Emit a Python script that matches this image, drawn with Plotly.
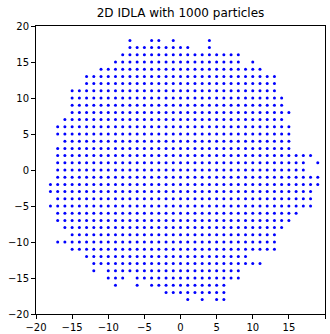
import plotly.graph_objects as go

# Occupied lattice sites of the IDLA cluster, stored row by row.
# Each row lists runs of consecutive occupied x positions as (start, end).
row_y = list(range(18, -19, -1))
row_runs = [
    [(-7, -7), (-4, -3), (-1, -1), (4, 4)],          # y = 18
    [(-7, 1), (4, 4)],                               # y = 17
    [(-8, 8)],                                       # y = 16
    [(-9, 8), (10, 10)],                             # y = 15
    [(-11, 11)],                                     # y = 14
    [(-13, 13)],                                     # y = 13
    [(-13, 13)],                                     # y = 12
    [(-15, 13)],                                     # y = 11
    [(-15, 14)],                                     # y = 10
    [(-15, 14)],                                     # y = 9
    [(-15, 15)],                                     # y = 8
    [(-16, 14)],                                     # y = 7
    [(-17, 15)],                                     # y = 6
    [(-17, 15)],                                     # y = 5
    [(-16, 15)],                                     # y = 4
    [(-17, 15)],                                     # y = 3
    [(-17, 18)],                                     # y = 2
    [(-17, 17), (19, 19)],                           # y = 1
    [(-17, 17)],                                     # y = 0
    [(-17, 19)],                                     # y = -1
    [(-18, 19)],                                     # y = -2
    [(-18, 18)],                                     # y = -3
    [(-17, 18)],                                     # y = -4
    [(-18, 18)],                                     # y = -5
    [(-17, 16)],                                     # y = -6
    [(-17, 15)],                                     # y = -7
    [(-16, 14)],                                     # y = -8
    [(-15, 13)],                                     # y = -9
    [(-17, 13)],                                     # y = -10
    [(-15, 13)],                                     # y = -11
    [(-13, 9)],                                      # y = -12
    [(-12, 11)],                                     # y = -13
    [(-12, -12), (-10, 8)],                          # y = -14
    [(-10, -8), (-6, 8)],                            # y = -15
    [(-9, -9), (-6, -6), (-4, 6)],                   # y = -16
    [(-2, 6)],                                       # y = -17
    [(1, 1), (3, 3), (5, 6)],                        # y = -18
]

tick_values = [-20, -15, -10, -5, 0, 5, 10, 15, 20]
n_particles = 1000

xs, ys = [], []
for y, runs in zip(row_y, row_runs):
    for start, end in runs:
        for x in range(start, end + 1):
            xs.append(x)
            ys.append(y)

fig = go.Figure(
    go.Scatter(
        x=xs, y=ys, mode="markers",
        marker=dict(color="blue", size=3, symbol="circle", line=dict(width=0)),
        hoverinfo="x+y",
    )
)

axis_style = dict(
    range=[-20, 20], tickvals=tick_values, showgrid=False, zeroline=False,
    showline=True, mirror=True, linecolor="black", linewidth=1,
    ticks="outside", ticklen=4, tickcolor="black", tickwidth=1,
    tickfont=dict(family="DejaVu Sans", size=10, color="black"),
    automargin=False,
)

fig.update_layout(
    width=330, height=334,
    margin=dict(l=36, r=5, t=26, b=20),
    paper_bgcolor="white", plot_bgcolor="white",
    showlegend=False,
    title=dict(
        text=f"2D IDLA with {n_particles} particles",
        x=0.5, xref="paper", xanchor="center",
        y=1 - 13 / 334, yref="container", yanchor="middle",
        font=dict(family="DejaVu Sans", size=12, color="black"),
    ),
    xaxis=axis_style,
    yaxis=axis_style,
)

fig.write_html("out.html")
